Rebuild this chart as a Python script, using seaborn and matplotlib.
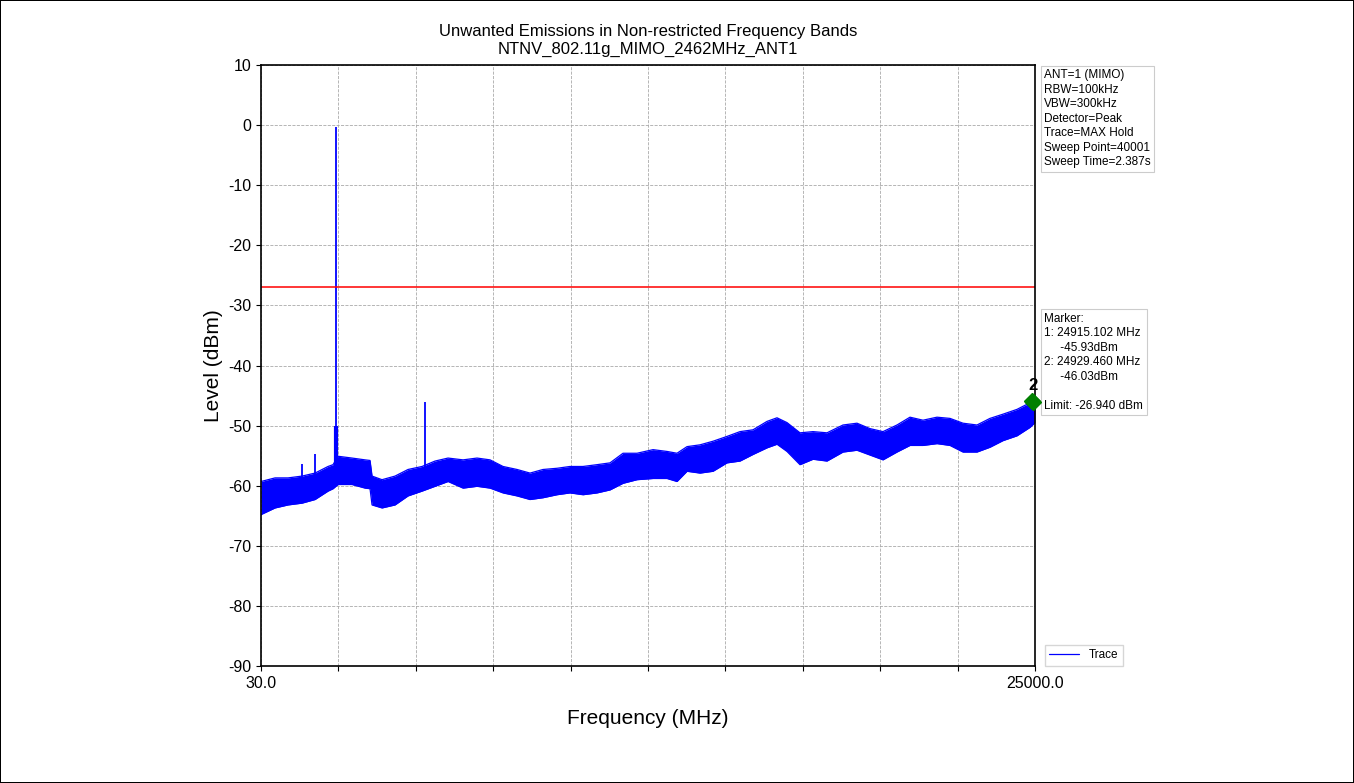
import numpy as np
import matplotlib
matplotlib.use("Agg")
import matplotlib.pyplot as plt
import seaborn as sns

# Trace envelope (MHz, dBm)
freq_mhz = [30, 482, 901, 1353, 1772, 2191, 2353, 2514, 2966, 3385, 3546, 3611,
            3933, 4353, 4772, 5224, 5643, 6063, 6547, 6998, 7418, 7837, 8289,
            8708, 9127, 9579, 9998, 10418, 10869, 11289, 11708, 12160, 12676,
            13128, 13450, 13773, 14192, 14612, 15063, 15483, 15902, 16354,
            16676, 16999, 17418, 17838, 18289, 18805, 19257, 19676, 20096,
            20547, 20967, 21386, 21838, 22257, 22677, 23128, 23548, 23967,
            24419, 24838, 25000]
level_top = [-59.3, -58.7, -58.7, -58.4, -57.9, -56.8, -56.5, -55.1, -55.4, -55.7,
             -55.8, -58.4, -59.0, -58.4, -57.3, -56.8, -55.9, -55.4, -55.7, -55.4,
             -55.7, -56.8, -57.3, -57.9, -57.3, -57.1, -56.8, -56.8, -56.5, -56.2,
             -54.6, -54.6, -54.0, -54.3, -54.6, -53.5, -53.2, -52.6, -51.8, -51.0,
             -50.7, -49.3, -48.7, -49.5, -51.2, -51.0, -51.2, -49.9, -49.6, -50.5,
             -51.0, -49.9, -48.6, -49.1, -48.6, -48.8, -49.6, -49.9, -48.8, -48.1,
             -47.3, -46.2, -45.9]
level_bottom = [-64.8, -63.7, -63.2, -62.9, -62.3, -60.9, -60.5, -59.8, -59.8, -60.4,
                -60.5, -63.2, -63.7, -63.2, -61.7, -60.9, -60.1, -59.3, -60.4, -60.1,
                -60.4, -61.2, -61.7, -62.3, -62.0, -61.5, -61.2, -61.5, -61.2, -60.7,
                -59.6, -59.0, -58.8, -58.8, -59.3, -57.6, -57.9, -57.6, -56.2, -55.9,
                -54.8, -53.7, -53.1, -54.3, -56.5, -55.6, -55.9, -54.4, -54.1, -54.9,
                -55.7, -54.4, -53.3, -53.3, -53.0, -53.3, -54.4, -54.4, -53.6, -52.5,
                -51.7, -50.3, -49.5]

# narrow spikes sticking out of the noise floor
spike_freq = [1353, 1772, 2462, 5320]
spike_top = [-56.4, -54.8, -0.4, -46.0]
spike_base = [-59.0, -58.0, -57.0, -57.0]

limit_dbm = -26.94
marker_freq = [24915.102, 24929.460]
marker_level = [-45.93, -46.03]
marker_names = ["1", "2"]

yticks = [10, 0, -10, -20, -30, -40, -50, -60, -70, -80, -90]

settings_text = ("ANT=1 (MIMO)\nRBW=100kHz\nVBW=300kHz\nDetector=Peak\n"
                 "Trace=MAX Hold\nSweep Point=40001\nSweep Time=2.387s")
marker_text = ("Marker:\n1: 24915.102 MHz\n     -45.93dBm\n2: 24929.460 MHz\n"
               "     -46.03dBm\n\nLimit: -26.940 dBm")

sns.set_style("ticks")
plt.rcParams["font.family"] = ["Liberation Sans", "DejaVu Sans"]
plt.rcParams["axes.unicode_minus"] = False
plt.rcParams["text.color"] = "black"
plt.rcParams["axes.labelcolor"] = "black"
plt.rcParams["xtick.color"] = "black"
plt.rcParams["ytick.color"] = "black"

fig = plt.figure(figsize=(13.54, 7.83), dpi=100)
fig.patch.set_edgecolor("black")
fig.patch.set_linewidth(1.2)
ax = fig.add_axes([0.1928, 0.1494, 0.5716, 0.7676])

ax.fill_between(freq_mhz, level_bottom, level_top, color="blue", lw=0)
sns.lineplot(x=freq_mhz, y=level_top, color="blue", lw=0.9, label="Trace", ax=ax)
ax.plot(freq_mhz, level_bottom, color="blue", lw=0.9)
ax.vlines(spike_freq, spike_base, spike_top, color="blue", lw=1.3)
ax.vlines([2462], [-57.0], [-50.0], color="blue", lw=3)

ax.axhline(limit_dbm, color="red", lw=1.1)

ax.plot(marker_freq, marker_level, "D", color="green", ms=8, clip_on=False, zorder=5)
ax.text(marker_freq[1], marker_level[1] + 1.4, marker_names[1], ha="center",
        va="bottom", fontsize=12, fontweight="bold", clip_on=False)

xticks = np.linspace(30, 25000, 11)
ax.set_xticks(xticks)
ax.set_xticklabels(["30.0"] + [""] * 9 + ["25000.0"], fontsize=11.5)
ax.set_yticks(yticks)
ax.tick_params(axis="y", labelsize=11.5)
ax.set_xlim(30, 25000)
ax.set_ylim(-90, 10)
ax.grid(True, linestyle="--", color="#aaaaaa", lw=0.6)
for s in ax.spines.values():
    s.set_linewidth(1.2)
    s.set_color("black")

ax.set_xlabel("Frequency (MHz)", fontsize=15, labelpad=13)
ax.set_ylabel("Level (dBm)", fontsize=15, labelpad=4)
ax.set_title("Unwanted Emissions in Non-restricted Frequency Bands\n"
             "NTNV_802.11g_MIMO_2462MHz_ANT1", fontsize=12, pad=8)

box = dict(boxstyle="square,pad=0.3", fc="white", ec="#cccccc", lw=0.8)
ax.text(1.012, 0.993, settings_text, transform=ax.transAxes, fontsize=8.5,
        va="top", ha="left", bbox=box, linespacing=1.28)
ax.text(1.012, 0.588, marker_text, transform=ax.transAxes, fontsize=8.5,
        va="top", ha="left", bbox=box, linespacing=1.28)

ax.legend(loc="lower left", bbox_to_anchor=(1.005, -0.01), fontsize=8.5,
          frameon=True, fancybox=False, edgecolor="#cccccc", handlelength=2.5)

fig.savefig("out.png", dpi=100)
